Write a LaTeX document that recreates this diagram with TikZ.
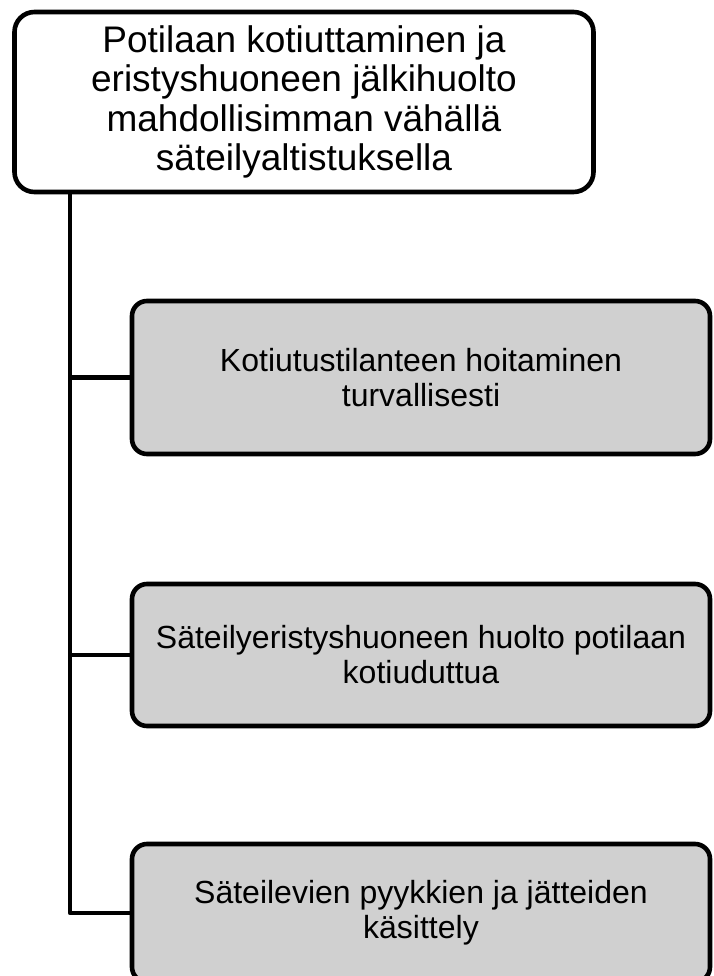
\documentclass[tikz,border=0pt]{standalone}
\usepackage{fontspec}
\setmainfont{Liberation Sans}
\definecolor{boxgray}{RGB}{208,208,208}
\begin{document}
\begin{tikzpicture}[x=1pt,y=-1pt,
  topbox/.style={draw=black, line width=4.6pt, rounded corners=20pt, fill=white,
    inner sep=0pt, align=center, minimum width=579pt, minimum height=180pt,
    font=\fontsize{37}{39.5}\selectfont},
  subbox/.style={draw=black, line width=4.6pt, rounded corners=15pt, fill=boxgray,
    inner sep=0pt, align=center, minimum width=578pt,
    font=\fontsize{32}{35}\selectfont},
  conn/.style={draw=black, line width=4.8pt, line join=round}]
\useasboundingbox (0,0) rectangle (713,976);

% main heading box
\node[topbox] (top) at (304,102) {Potilaan kotiuttaminen ja\\eristyshuoneen jälkihuolto\\mahdollisimman vähällä\\säteilyaltistuksella};

% sub-task boxes
\node[subbox, minimum height=153pt] (b1) at (421,377.5) {Kotiutustilanteen hoitaminen\\turvallisesti};
\node[subbox, minimum height=142pt] (b2) at (421,655) {Säteilyeristyshuoneen huolto potilaan\\kotiuduttua};
\node[subbox, minimum height=138pt] (b3) at (421,913) {Säteilevien pyykkien ja jätteiden\\käsittely};

% spine and branches
\coordinate (spine) at (70,0);
\draw[conn] (top.south -| spine) |- (b3.west);
\draw[conn] (b1.west -| spine) -- (b1.west);
\draw[conn] (b2.west -| spine) -- (b2.west);
\end{tikzpicture}
\end{document}
